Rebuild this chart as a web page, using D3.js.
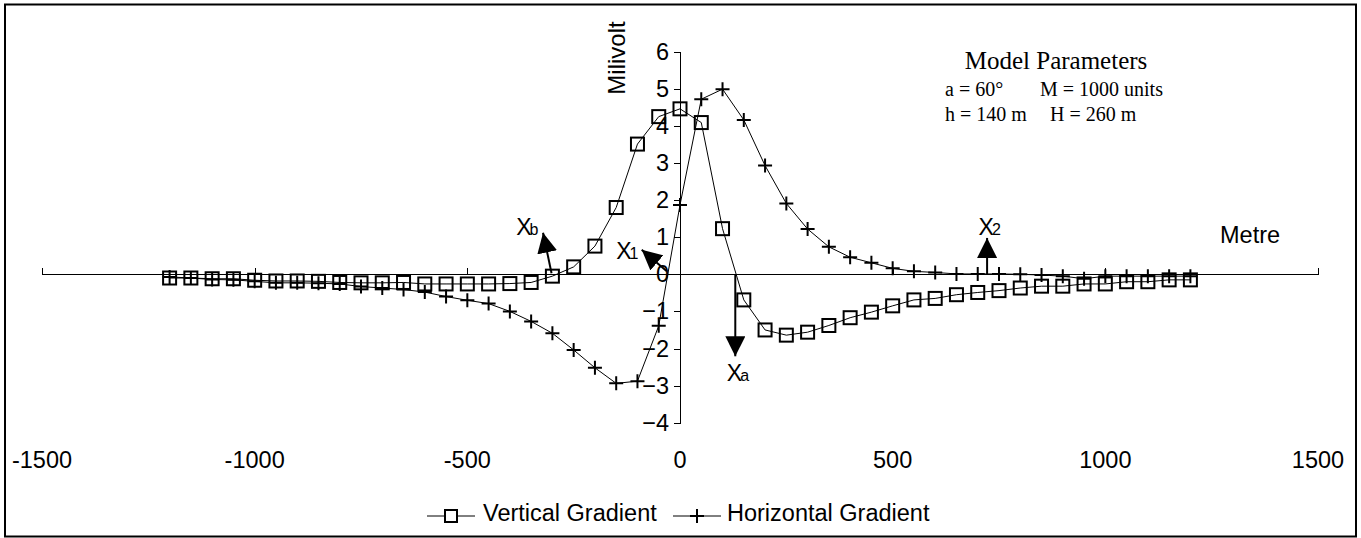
<!DOCTYPE html>
<html>
<head>
<meta charset="utf-8">
<script src="https://cdn.jsdelivr.net/npm/d3@7"></script>
<style>
  body { margin: 0; background: #fff; }
  text { font-family: "Liberation Sans", Arial, sans-serif; fill: #000; }
  .serif { font-family: "Liberation Serif", "Times New Roman", serif; }
</style>
</head>
<body>
<div id="chart"></div>
<script>
// distance along profile (metre)
const distance = [-1200, -1150, -1100, -1050, -1000, -950, -900, -850, -800, -750,
  -700, -650, -600, -550, -500, -450, -400, -350, -300, -250,
  -200, -150, -100, -50, 0, 50, 100, 150, 200, 250,
  300, 350, 400, 450, 500, 550, 600, 650, 700, 750,
  800, 850, 900, 950, 1000, 1050, 1100, 1150, 1200];

const verticalGradient = [-0.10, -0.10, -0.12, -0.12, -0.16, -0.18, -0.18, -0.19, -0.22, -0.23,
  -0.23, -0.22, -0.26, -0.26, -0.26, -0.26, -0.25, -0.22, -0.05, 0.20,
  0.76, 1.80, 3.51, 4.25, 4.46, 4.09, 1.23, -0.69, -1.50, -1.64,
  -1.56, -1.38, -1.17, -1.02, -0.85, -0.69, -0.65, -0.55, -0.49, -0.44,
  -0.37, -0.32, -0.32, -0.26, -0.26, -0.20, -0.20, -0.15, -0.15];

const horizontalGradient = [-0.07, -0.10, -0.14, -0.15, -0.19, -0.23, -0.23, -0.24, -0.26, -0.33,
  -0.37, -0.41, -0.48, -0.60, -0.70, -0.79, -1.00, -1.27, -1.59, -2.04,
  -2.52, -2.94, -2.88, -1.39, 1.87, 4.72, 4.99, 4.16, 2.93, 1.91,
  1.22, 0.74, 0.46, 0.31, 0.16, 0.08, 0.05, 0.01, 0.01, 0.01,
  0.00, -0.02, -0.05, -0.12, -0.05, -0.05, -0.05, -0.05, -0.05];

const xTicks = [-1500, -1000, -500, 0, 500, 1000, 1500];
const yTicks = [-4, -3, -2, -1, 0, 1, 2, 3, 4, 5, 6];

// arrows in data units, with label position
const arrows = [
  {from: [-302, 0.03], to: [-322, 1.12], label: "X", sub: "b", at: [-385, 1.05]},
  {from: [-31, 0.08], to: [-90, 0.66], label: "X", sub: "1", at: [-150, 0.42]},
  {from: [130, 0], to: [130, -2.21], label: "X", sub: "a", at: [110, -2.88]},
  {from: [722, 0], to: [722, 0.98], label: "X", sub: "2", at: [702, 1.05]}
];

const width = 1361;
const height = 538;

const x = d3.scaleLinear().domain([-1500, 1500]).range([42, 1318]);
const y = d3.scaleLinear().domain([-4, 6]).range([422.7, 51.7]);

const svg = d3.select("#chart").append("svg")
    .attr("width", width)
    .attr("height", height)
    .attr("viewBox", [0, 0, width, height]);

// frame
svg.append("rect")
    .attr("x", 5).attr("y", 4.5)
    .attr("width", 1351).attr("height", 532)
    .attr("fill", "none").attr("stroke", "#000").attr("stroke-width", 2);

// x axis on the zero line, ticks upward, labels at bottom
svg.append("g")
    .attr("transform", `translate(0,${y(0)})`)
    .call(d3.axisTop(x).tickValues(xTicks).tickSize(6).tickFormat(""))
    .call(g => g.selectAll("path, line").attr("stroke", "#000").attr("shape-rendering", "crispEdges"));

svg.append("g")
  .selectAll("text")
  .data(xTicks)
  .join("text")
    .attr("x", d => x(d))
    .attr("y", 468)
    .attr("text-anchor", "middle")
    .style("font-size", "23.5px")
    .text(d => d);

// y axis
svg.append("g")
    .attr("transform", `translate(${x(0)},0)`)
    .call(d3.axisLeft(y).tickValues(yTicks).tickSize(6).tickPadding(5))
    .call(g => g.selectAll("path, line").attr("stroke", "#000").attr("shape-rendering", "crispEdges"))
    .call(g => g.selectAll("text")
        .attr("fill", "#000")
        .style("font-size", "23.5px")
        .style("font-family", "'Liberation Sans', Arial, sans-serif"));

svg.append("text")
    .attr("transform", `translate(625,58) rotate(-90)`)
    .attr("text-anchor", "middle")
    .style("font-size", "24px")
    .text("Milivolt");

svg.append("text")
    .attr("x", 1220).attr("y", 243)
    .style("font-size", "23.5px")
    .text("Metre");

// series
const vData = distance.map((d, i) => [d, verticalGradient[i]]);
const hData = distance.map((d, i) => [d, horizontalGradient[i]]);

const line = d3.line().x(d => x(d[0])).y(d => y(d[1]));

svg.append("path").datum(vData)
    .attr("d", line).attr("fill", "none").attr("stroke", "#000").attr("stroke-width", 1);
svg.append("path").datum(hData)
    .attr("d", line).attr("fill", "none").attr("stroke", "#000").attr("stroke-width", 1);

svg.append("g")
  .selectAll("path")
  .data(hData)
  .join("path")
    .attr("d", d => `M${x(d[0]) - 7},${y(d[1])}h14M${x(d[0])},${y(d[1]) - 7}v14`)
    .attr("stroke", "#000").attr("stroke-width", 2);

svg.append("g")
  .selectAll("rect")
  .data(vData)
  .join("rect")
    .attr("x", d => x(d[0]) - 6.5)
    .attr("y", d => y(d[1]) - 6.5)
    .attr("width", 13).attr("height", 13)
    .attr("fill", "none").attr("stroke", "#000").attr("stroke-width", 2);

// arrows
svg.append("defs").append("marker")
    .attr("id", "head")
    .attr("viewBox", "0 0 10 10")
    .attr("refX", 10).attr("refY", 5)
    .attr("markerWidth", 20).attr("markerHeight", 20)
    .attr("markerUnits", "userSpaceOnUse")
    .attr("orient", "auto")
  .append("path")
    .attr("d", "M0,0L10,5L0,10Z")
    .attr("fill", "#000");

svg.append("g")
  .selectAll("line")
  .data(arrows)
  .join("line")
    .attr("x1", d => x(d.from[0])).attr("y1", d => y(d.from[1]))
    .attr("x2", d => x(d.to[0])).attr("y2", d => y(d.to[1]))
    .attr("stroke", "#000").attr("stroke-width", 2)
    .attr("marker-end", "url(#head)");

const labels = svg.append("g")
  .selectAll("text")
  .data(arrows)
  .join("text")
    .attr("x", d => x(d.at[0]))
    .attr("y", d => y(d.at[1]))
    .style("font-size", "23px");
labels.append("tspan").text(d => d.label);
labels.append("tspan").attr("dx", -2).style("font-size", "16px").text(d => d.sub);

// model parameters
const params = svg.append("g");
params.append("text").attr("class", "serif")
    .attr("x", 1056).attr("y", 69).attr("text-anchor", "middle")
    .style("font-size", "25px").text("Model Parameters");
params.append("text").attr("class", "serif")
    .attr("x", 945).attr("y", 96).style("font-size", "20px").text("a = 60°");
params.append("text").attr("class", "serif")
    .attr("x", 1040).attr("y", 96).style("font-size", "20px").text("M = 1000 units");
params.append("text").attr("class", "serif")
    .attr("x", 945).attr("y", 121).style("font-size", "20px").text("h = 140 m");
params.append("text").attr("class", "serif")
    .attr("x", 1050).attr("y", 121).style("font-size", "20px").text("H = 260 m");

// legend
const legend = svg.append("g");
legend.append("line").attr("x1", 427).attr("x2", 475).attr("y1", 516).attr("y2", 516)
    .attr("stroke", "#000");
legend.append("rect").attr("x", 445).attr("y", 510).attr("width", 12).attr("height", 12)
    .attr("fill", "#fff").attr("stroke", "#000").attr("stroke-width", 2);
legend.append("text").attr("x", 483).attr("y", 521).style("font-size", "23.5px").text("Vertical Gradient");
legend.append("line").attr("x1", 673).attr("x2", 721).attr("y1", 516).attr("y2", 516)
    .attr("stroke", "#000");
legend.append("path").attr("d", "M690,516h14M697,509v14")
    .attr("stroke", "#000").attr("stroke-width", 2);
legend.append("text").attr("x", 727).attr("y", 521).style("font-size", "23.5px").text("Horizontal Gradient");
</script>
</body>
</html>
